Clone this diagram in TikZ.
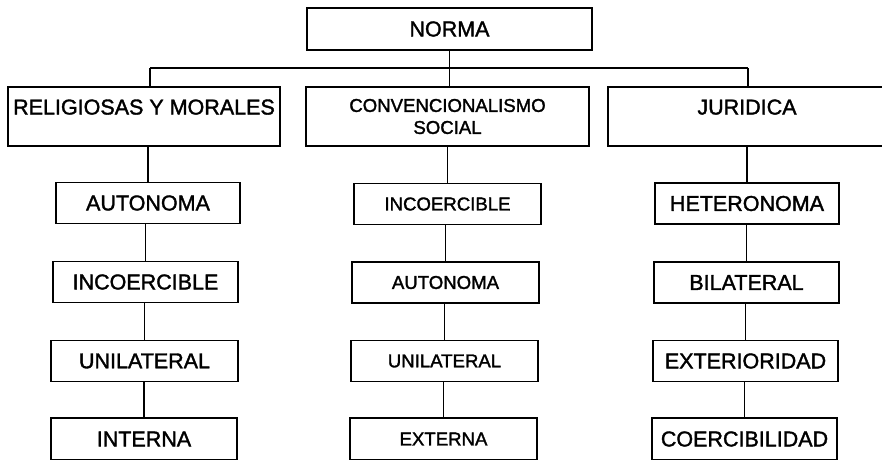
\documentclass[tikz,border=0pt]{standalone}
\usepackage{fontspec}
\setmainfont{Liberation Sans}
\begin{document}
\begin{tikzpicture}[x=1pt,y=-1pt,
 box/.style={draw, line width=1.7pt, rectangle, inner sep=0pt, align=center},
 big/.style={font=\fontsize{21.5}{24}\selectfont\addfontfeature{FakeBold=1.6}},
 small/.style={font=\fontsize{18.6}{22}\selectfont\addfontfeature{FakeBold=1.6}},
 cell/.style={box, minimum height=41pt},
 top/.style={box, minimum height=59pt},
 link/.style={line width=1.7pt}]
\useasboundingbox (0,0) rectangle (882,459);
% root
\node[box,big,minimum width=285pt,minimum height=42pt] (norma) at (449.5,29) {NORMA};
% second row
\node[top,big,minimum width=272pt,text height=15pt,text depth=19pt] (rel) at (144,116.5) {RELIGIOSAS Y MORALES};
\node[top,small,minimum width=283pt] (conv) at (447.5,116.5) {CONVENCIONALISMO\\SOCIAL};
\node[top,big,minimum width=278pt,text height=15pt,text depth=19pt] (jur) at (747,116.5) {JURIDICA};
% left column
\node[cell,big,minimum width=184pt] (a1) at (148,203) {AUTONOMA};
\node[cell,big,minimum width=185pt] (a2) at (145.5,282) {INCOERCIBLE};
\node[cell,big,minimum width=187pt] (a3) at (144.5,361) {UNILATERAL};
\node[cell,big,minimum width=186pt,minimum height=42pt] (a4) at (144,439) {INTERNA};
% middle column
\node[cell,small,minimum width=187pt] (b1) at (447.5,204) {INCOERCIBLE};
\node[cell,small,minimum width=187pt] (b2) at (445.5,282.5) {AUTONOMA};
\node[cell,small,minimum width=187pt] (b3) at (444.5,361) {UNILATERAL};
\node[cell,small,minimum width=187pt,minimum height=42pt] (b4) at (443.5,439) {EXTERNA};
% right column
\node[cell,big,minimum width=184pt] (c1) at (747,203.5) {HETERONOMA};
\node[cell,big,minimum width=185pt] (c2) at (746.5,282.5) {BILATERAL};
\node[cell,big,minimum width=185pt] (c3) at (745.5,361) {EXTERIORIDAD};
\node[cell,big,minimum width=185pt,minimum height=42pt] (c4) at (744.5,439) {COERCIBILIDAD};
% bar
\coordinate (bl) at (150,68);
\coordinate (br) at (748,68);
\draw[link] (bl) -- (br);
\draw[link] (bl) -- (bl |- rel.north);
\draw[link] (br) -- (br |- jur.north);
\draw[link] (norma.south) -- (norma.south |- conv.north);
% column links
\draw[link] (a1.north) -- (a1.north |- rel.south);
\draw[link] (a2.north) -- (a2.north |- a1.south);
\draw[link] (a3.north) -- (a3.north |- a2.south);
\draw[link] (a4.north) -- (a4.north |- a3.south);
\draw[link] (b1.north) -- (b1.north |- conv.south);
\draw[link] (b2.north) -- (b2.north |- b1.south);
\draw[link] (b3.north) -- (b3.north |- b2.south);
\draw[link] (b4.north) -- (b4.north |- b3.south);
\draw[link] (c1.north) -- (c1.north |- jur.south);
\draw[link] (c2.north) -- (c2.north |- c1.south);
\draw[link] (c3.north) -- (c3.north |- c2.south);
\draw[link] (c4.north) -- (c4.north |- c3.south);
\end{tikzpicture}
\end{document}
